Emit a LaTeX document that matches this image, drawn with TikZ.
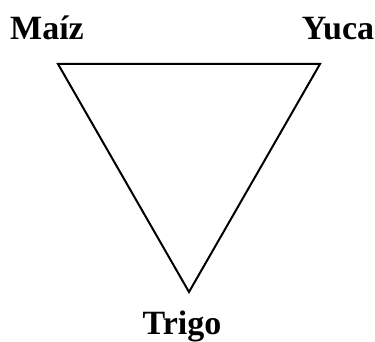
\documentclass[tikz,border=0pt]{standalone}
\usepackage{fontspec}
\setmainfont{Liberation Serif}
\usepackage{tikz}

\tikzset{crop/.style={font=\bfseries\fontsize{34}{39}\selectfont, inner sep=0pt, anchor=base}}

\begin{document}
\begin{tikzpicture}[x=1pt, y=1pt]
  \useasboundingbox (0,0) rectangle (375,342);

  % corners
  \coordinate (tl) at (58,278);
  \coordinate (tr) at (320,278);
  \coordinate (bt) at (189,50);

  % triangle
  \draw[line width=2pt, line join=miter] (tl) -- (tr) -- (bt) -- cycle;

  % labels
  \node[crop] (maiz) at (47,302) {Maíz};
  \node[crop] (yuca) at (338,302) {Yuca};
  \node[crop] (trigo) at (182,7) {Trigo};
\end{tikzpicture}
\end{document}
